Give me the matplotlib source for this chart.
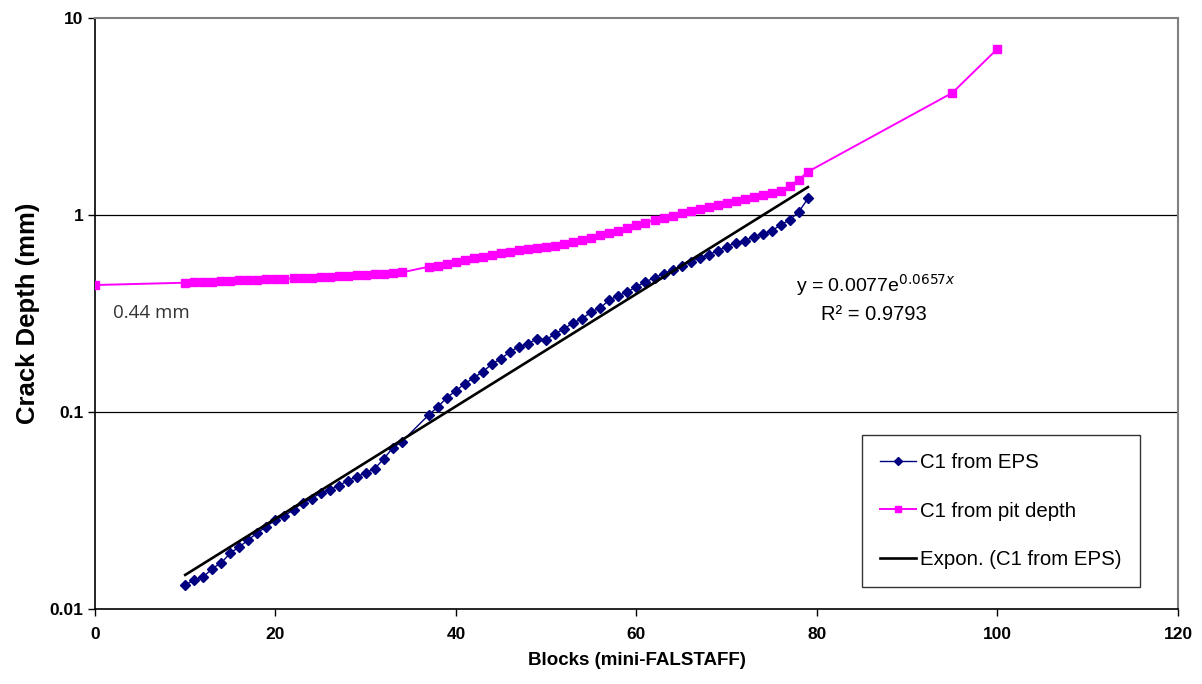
import numpy as np
import matplotlib.pyplot as plt
from matplotlib.ticker import FixedLocator, NullLocator

plt.rcParams['font.family'] = ['Liberation Sans', 'DejaVu Sans']

# C1 from EPS
eps_x = list(range(10, 35)) + list(range(37, 80))
eps_y = [0.0132, 0.0140, 0.0145, 0.0160, 0.0171, 0.0192, 0.0206, 0.0224, 0.0243, 0.0261,
         0.0283, 0.0297, 0.0318, 0.0345, 0.0362, 0.0388, 0.0402, 0.0421, 0.0447, 0.0468,
         0.0490, 0.0514, 0.0577, 0.0656, 0.0705,
         0.0966, 0.106, 0.118, 0.128, 0.139, 0.149, 0.160, 0.175, 0.186, 0.202,
         0.214, 0.222, 0.235, 0.232, 0.249, 0.264, 0.283, 0.297, 0.322, 0.337,
         0.370, 0.388, 0.407, 0.431, 0.457, 0.479, 0.502, 0.526, 0.551, 0.577,
         0.605, 0.627, 0.657, 0.688, 0.721, 0.738, 0.773, 0.801, 0.830, 0.889,
         0.943, 1.036, 1.21]

# C1 from pit depth
pit_x = [0] + list(range(10, 35)) + list(range(37, 80)) + [95, 100]
pit_y = [0.44,
         0.452, 0.455, 0.457, 0.458, 0.460, 0.462, 0.464, 0.466, 0.468, 0.470,
         0.472, 0.474, 0.476, 0.478, 0.480, 0.482, 0.484, 0.487, 0.490, 0.492,
         0.495, 0.498, 0.502, 0.506, 0.510,
         0.545, 0.551, 0.564, 0.577, 0.591, 0.605, 0.612, 0.627, 0.641, 0.649,
         0.664, 0.672, 0.680, 0.685, 0.696, 0.713, 0.730, 0.747, 0.764, 0.792,
         0.811, 0.830, 0.859, 0.890, 0.911, 0.943, 0.966, 0.988, 1.024, 1.048,
         1.073, 1.098, 1.124, 1.151, 1.178, 1.206, 1.234, 1.263, 1.293, 1.324,
         1.404, 1.506, 1.654,
         4.16, 6.96]

# exponential trendline y = a*exp(b*x)
fit_a = 0.0077
fit_b = 0.0657
fit_r2 = 0.9793

fig = plt.figure(figsize=(12.02, 6.84), dpi=100)
ax = fig.add_axes([0.079, 0.110, 0.901, 0.864])

fx = np.array(eps_x, dtype=float)
line1, = ax.plot(eps_x, eps_y, color='#000080', linewidth=1.0, marker='D', markersize=5.5,
                 label='C1 from EPS', zorder=3)
line2, = ax.plot(pit_x, pit_y, color='#FF00FF', linewidth=1.4, marker='s', markersize=6,
                 label='C1 from pit depth', zorder=3)
line3, = ax.plot(fx, fit_a * np.exp(fit_b * fx), color='black', linewidth=1.9,
                 label='Expon. (C1 from EPS)', zorder=4)

ax.set_yscale('log')
ax.set_xlim(0, 120)
ax.set_ylim(0.01, 10)
ax.yaxis.set_major_locator(FixedLocator([0.01, 0.1, 1, 10]))
ax.yaxis.set_minor_locator(NullLocator())
ax.set_yticklabels(['0.01', '0.1', '1', '10'])
ax.set_xticks([0, 20, 40, 60, 80, 100, 120])
ax.tick_params(axis='both', labelsize=12.5, direction='out', length=5, width=1)
ax.tick_params(axis='x', pad=8)
for t in ax.get_xticklabels() + ax.get_yticklabels():
    t.set_fontweight('bold')

for yv in [0.1, 1]:
    ax.axhline(yv, color='black', linewidth=0.9, zorder=1)

ax.spines['top'].set_color('#808080')
ax.spines['right'].set_color('#808080')
ax.spines['top'].set_linewidth(1.5)
ax.spines['right'].set_linewidth(1.5)
ax.spines['left'].set_linewidth(1.2)
ax.spines['bottom'].set_linewidth(1.2)

ax.set_xlabel('Blocks (mini-FALSTAFF)', fontsize=13.5, fontweight='bold', labelpad=7)
ax.set_ylabel('Crack Depth (mm)', fontsize=18.5, fontweight='bold', labelpad=7)

ax.text(2.0, 0.318, '0.44 mm', fontsize=13.5, color='#333333', family=['Open Sans', 'DejaVu Sans'],
        va='center', ha='left')
ax.text(77.7, 0.44, 'y = 0.0077e$^{0.0657x}$', fontsize=14, ha='left', va='center')
ax.text(80.4, 0.31, 'R² = %.4f' % fit_r2, fontsize=14.5, ha='left', va='center')

leg = ax.legend(handles=[line1, line2, line3], loc='lower left', bbox_to_anchor=(0.708, 0.036),
                fontsize=14.7, frameon=True, fancybox=False, edgecolor='black',
                labelspacing=1.45, handlelength=1.75, handletextpad=0.2, borderpad=0.9,
                borderaxespad=0)
leg.get_frame().set_linewidth(1.0)
for h in leg.legend_handles:
    h.set_markersize(4.5)

fig.savefig('out.png', dpi=100)
